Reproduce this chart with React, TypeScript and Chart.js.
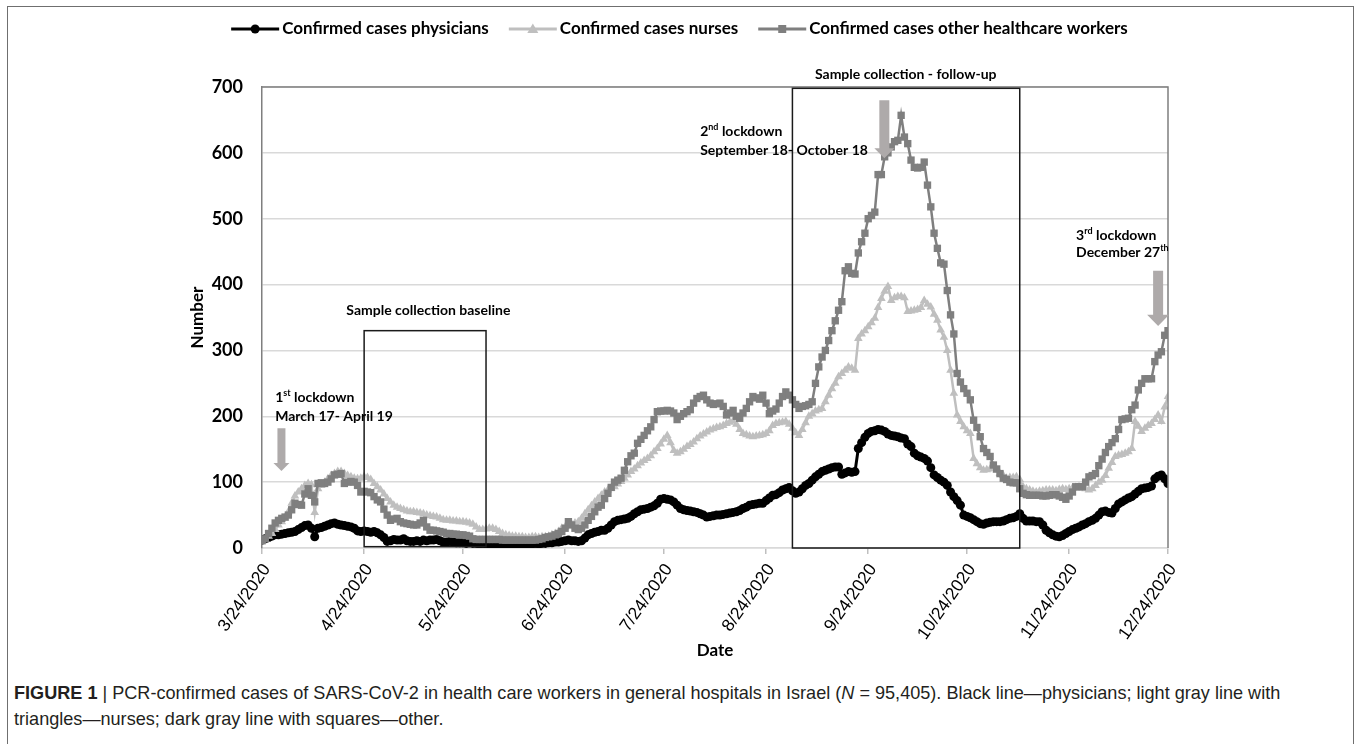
import React, { useEffect, useRef } from 'react';
import { Chart, registerables } from 'chart.js';

Chart.register(...registerables);

// ---------------- data ----------------
const START_DATE = '3/24/2020';
const TICK_LABELS = [
  '3/24/2020', '4/24/2020', '5/24/2020', '6/24/2020', '7/24/2020',
  '8/24/2020', '9/24/2020', '10/24/2020', '11/24/2020', '12/24/2020',
];
const Y_TICKS = [0, 100, 200, 300, 400, 500, 600, 700];
const SERIES_NAMES = [
  'Confirmed cases physicians',
  'Confirmed cases nurses',
  'Confirmed cases other healthcare workers',
];

// daily values, 3/24/2020 .. 12/24/2020
const PHYSICIANS = [
  12, 14, 16, 18, 20, 20, 21, 22, 23, 24,
  25, 28, 31, 34, 35, 30, 17, 30, 31, 33,
  35, 37, 38, 36, 35, 34, 33, 32, 30, 26,
  25, 26, 25, 24, 25, 23, 20, 16, 10, 11,
  13, 12, 12, 14, 11, 10, 10, 11, 10, 12,
  11, 12, 12, 13, 11, 9, 9, 10, 9, 8,
  8, 8, 7, 8, 7, 7, 6, 7, 6, 6,
  6, 6, 5, 6, 5, 6, 6, 5, 6, 6,
  6, 6, 6, 7, 6, 7, 7, 8, 8, 9,
  9, 10, 11, 12, 11, 11, 10, 11, 15, 20,
  22, 24, 25, 27, 27, 30, 35, 40, 42, 43,
  44, 45, 48, 52, 55, 58, 59, 60, 62, 64,
  68, 74, 75, 74, 73, 70, 65, 60, 58, 57,
  56, 55, 54, 52, 50, 47, 48, 49, 50, 50,
  51, 52, 53, 54, 55, 57, 60, 62, 65, 66,
  67, 68, 68, 72, 76, 80, 81, 84, 88, 90,
  92, 87, 83, 85, 90, 95, 98, 103, 108, 112,
  116, 118, 120, 122, 123, 123, 112, 114, 116, 115,
  116, 151, 160, 168, 174, 177, 178, 180, 179, 177,
  173, 171, 170, 169, 167, 166, 158, 154, 144, 140,
  138, 136, 132, 122, 111, 107, 103, 100, 95, 85,
  78, 72, 65, 50, 48, 46, 43, 40, 37, 36,
  38, 39, 40, 40, 40, 41, 43, 45, 46, 48,
  52, 45, 41, 41, 41, 40, 40, 35, 27, 23,
  20, 18, 17, 19, 22, 25, 28, 30, 32, 35,
  37, 40, 42, 45, 50, 55, 56, 54, 53, 60,
  67, 70, 73, 76, 78, 82, 86, 90, 91, 92,
  94, 105, 109, 111, 105, 98,
];

const NURSES = [
  10, 13, 18, 22, 28, 35, 40, 45, 55, 68,
  79, 85, 90, 95, 98, 96, 54, 90, 95, 100,
  105, 110, 113, 116, 116, 113, 110, 108, 106, 105,
  106, 108, 107, 104, 98, 93, 88, 82, 75, 70,
  65, 62, 60, 58, 56, 55, 55, 54, 53, 52,
  50, 49, 48, 47, 45, 43, 42, 42, 41, 41,
  40, 40, 39, 38, 36, 32, 28, 28, 29, 30,
  30, 28, 25, 22, 20, 19, 18, 18, 17, 17,
  16, 16, 17, 17, 16, 17, 17, 18, 20, 22,
  25, 30, 32, 34, 36, 38, 40, 45, 52, 58,
  64, 70, 75, 80, 85, 88, 91, 93, 97, 101,
  106, 111, 116, 120, 125, 129, 133, 136, 140, 146,
  151, 158, 165, 171, 160, 148, 144, 146, 150, 154,
  157, 161, 166, 170, 173, 176, 179, 181, 183, 184,
  186, 189, 191, 193, 188, 180, 174, 172, 170, 169,
  170, 171, 172, 174, 178, 186, 189, 190, 191, 192,
  188, 182, 175, 171, 180, 190, 200, 204, 208, 210,
  212, 222, 232, 242, 250, 260, 265, 270, 275, 273,
  270, 318, 325, 330, 336, 342, 349, 365, 379, 390,
  397, 376, 380, 382, 382, 380, 359, 360, 361, 362,
  365, 376, 370, 366, 355, 346, 331, 320, 300, 270,
  235, 202, 192, 184, 178, 174, 136, 128, 122, 118,
  119, 120, 121, 118, 113, 110, 106, 107, 107, 108,
  104, 93, 90, 88, 86, 85, 86, 87, 88, 88,
  88, 87, 89, 90, 89, 90, 91, 92, 93, 92,
  90, 88, 90, 95, 100, 103, 110, 121, 130, 139,
  141, 142, 144, 146, 151, 192, 185, 177, 182, 186,
  189, 195, 202, 192, 214, 230,
];

const OTHER = [
  11, 14, 22, 30, 38, 42, 45, 47, 50, 58,
  68, 66, 65, 82, 90, 80, 70, 98, 99, 98,
  100, 105, 111, 112, 113, 98, 100, 101, 100, 95,
  85, 86, 85, 84, 78, 73, 70, 59, 50, 42,
  44, 45, 40, 38, 37, 36, 35, 35, 38, 42,
  32, 27, 27, 26, 25, 24, 22, 22, 21, 21,
  20, 20, 19, 18, 14, 13, 13, 13, 13, 13,
  13, 13, 13, 12, 12, 12, 12, 12, 12, 12,
  12, 12, 12, 12, 13, 14, 16, 17, 18, 20,
  22, 25, 30, 40, 35, 30, 28, 30, 35, 42,
  48, 55, 62, 65, 75, 83, 92, 100, 103, 106,
  118, 131, 140, 144, 159, 165, 171, 178, 184, 195,
  207, 208, 208, 209, 208, 205, 195, 200, 204, 207,
  210, 220, 227, 230, 232, 225, 220, 218, 219, 220,
  215, 202, 205, 209, 200, 197, 205, 212, 222, 230,
  228, 226, 232, 220, 204, 208, 211, 220, 230, 237,
  232, 225, 218, 212, 215, 216, 218, 222, 250, 275,
  290, 300, 315, 330, 345, 361, 374, 421, 427, 417,
  416, 448, 465, 478, 500, 505, 510, 567, 567, 594,
  600, 609, 617, 619, 657, 624, 614, 589, 578, 577,
  578, 586, 551, 518, 478, 455, 433, 431, 391, 354,
  325, 265, 252, 242, 235, 225, 194, 183, 169, 151,
  145, 139, 126, 120, 113, 106, 104, 100, 99, 99,
  90, 83, 81, 80, 80, 80, 80, 79, 79, 80,
  81, 81, 79, 77, 74, 79, 85, 93, 93, 93,
  100, 108, 110, 113, 125, 135, 145, 154, 160, 166,
  180, 195, 196, 197, 210, 217, 240, 250, 257, 257,
  257, 283, 293, 298, 323, 330,
];

const BASELINE_WINDOW = ['4/24/2020', '5/31/2020'];
const FOLLOWUP_WINDOW = ['9/1/2020', '11/9/2020'];

// ---------------- helpers ----------------
function dayIndex(label: string): number {
  const [m, d, y] = label.split('/').map(Number);
  const [m0, d0, y0] = START_DATE.split('/').map(Number);
  return Math.round((Date.UTC(y, m - 1, d) - Date.UTC(y0, m0 - 1, d0)) / 86400000);
}
const TICK_DAYS = TICK_LABELS.map(dayIndex);

const BOLD = 'Lato, "Open Sans", sans-serif';
const ARROW_COLOR = '#AEAAAA';

type Part = { t: string; sup?: boolean };

function drawRich(ctx: CanvasRenderingContext2D, parts: Part[], x: number, y: number, size: number, align: 'left' | 'center') {
  const mainFont = `bold ${size}px ${BOLD}`;
  const supFont = `bold ${Math.round(size * 0.66)}px ${BOLD}`;
  let total = 0;
  parts.forEach((p) => {
    ctx.font = p.sup ? supFont : mainFont;
    total += ctx.measureText(p.t).width;
  });
  let cx = align === 'center' ? x - total / 2 : x;
  ctx.textBaseline = 'middle';
  ctx.textAlign = 'left';
  ctx.fillStyle = '#000';
  parts.forEach((p) => {
    ctx.font = p.sup ? supFont : mainFont;
    ctx.fillText(p.t, cx, p.sup ? y - size * 0.35 : y);
    cx += ctx.measureText(p.t).width;
  });
}

function drawArrow(ctx: CanvasRenderingContext2D, cx: number, yTop: number, yHead: number, yTip: number, shaftW: number, headW: number) {
  ctx.save();
  ctx.fillStyle = ARROW_COLOR;
  ctx.beginPath();
  ctx.moveTo(cx - shaftW / 2, yTop);
  ctx.lineTo(cx + shaftW / 2, yTop);
  ctx.lineTo(cx + shaftW / 2, yHead);
  ctx.lineTo(cx + headW / 2, yHead);
  ctx.lineTo(cx, yTip);
  ctx.lineTo(cx - headW / 2, yHead);
  ctx.lineTo(cx - shaftW / 2, yHead);
  ctx.closePath();
  ctx.fill();
  ctx.restore();
}

const overlayPlugin = {
  id: 'overlay',
  afterDatasetsDraw(chart: any) {
    const ctx: CanvasRenderingContext2D = chart.ctx;
    const xs = chart.scales.x;
    const ys = chart.scales.y;
    const px = (d: number) => xs.getPixelForValue(d);
    const py = (v: number) => ys.getPixelForValue(v);
    const { left, right, top, bottom } = chart.chartArea;

    ctx.save();
    // plot frame (top / right)
    ctx.strokeStyle = '#7F7F7F';
    ctx.lineWidth = 1.5;
    ctx.beginPath();
    ctx.moveTo(left, top);
    ctx.lineTo(right, top);
    ctx.lineTo(right, bottom);
    ctx.stroke();

    // sample collection windows
    ctx.strokeStyle = '#1a1a1a';
    ctx.lineWidth = 1.5;
    const b0 = px(dayIndex(BASELINE_WINDOW[0])), b1 = px(dayIndex(BASELINE_WINDOW[1]));
    ctx.strokeRect(b0, py(330), b1 - b0, py(2) - py(330));
    const f0 = px(dayIndex(FOLLOWUP_WINDOW[0])), f1 = px(dayIndex(FOLLOWUP_WINDOW[1]));
    ctx.strokeRect(f0, py(698), f1 - f0, py(0) - py(698));

    // arrows
    drawArrow(ctx, px(5.9), py(182), py(129), py(117), 8, 16);
    drawArrow(ctx, px(188.9), py(680), py(607), py(592), 10, 20);
    drawArrow(ctx, px(272), py(421), py(354), py(337), 10, 22);

    // annotation texts
    const fs = 14;
    drawRich(ctx, [{ t: 'Sample collection baseline' }], px(50.5), py(361), fs, 'center');
    drawRich(ctx, [{ t: 'Sample collection - follow-up' }], px(195.4), py(719), fs, 'center');
    drawRich(ctx, [{ t: '1' }, { t: 'st', sup: true }, { t: ' lockdown' }], px(4), py(228), fs, 'left');
    drawRich(ctx, [{ t: 'March 17- April 19' }], px(4), py(199), fs, 'left');
    drawRich(ctx, [{ t: '2' }, { t: 'nd', sup: true }, { t: ' lockdown' }], px(133), py(632), fs, 'left');
    drawRich(ctx, [{ t: 'September 18- October 18' }], px(133), py(603), fs, 'left');
    drawRich(ctx, [{ t: '3' }, { t: 'rd', sup: true }, { t: ' lockdown' }], px(247.1), py(474), fs, 'left');
    drawRich(ctx, [{ t: 'December 27' }, { t: 'th', sup: true }], px(247.1), py(448), fs, 'left');

    // axis titles
    ctx.fillStyle = '#000';
    ctx.font = `bold 17px ${BOLD}`;
    ctx.textAlign = 'center';
    ctx.textBaseline = 'middle';
    ctx.fillText('Date', (left + right) / 2, bottom + 103);
    ctx.save();
    ctx.translate(left - 64, (top + bottom) / 2);
    ctx.rotate(-Math.PI / 2);
    ctx.fillText('Number', 0, 0);
    ctx.restore();

    // legend
    const styles = [
      { color: '#000000', shape: 'circle' },
      { color: '#BFBFBF', shape: 'triangle' },
      { color: '#7F7F7F', shape: 'rect' },
    ];
    ctx.font = `bold 17px ${BOLD}`;
    const sampleW = 48, gap = 3, spacing = 20;
    const widths = SERIES_NAMES.map((n) => ctx.measureText(n).width);
    const total = widths.reduce((a, w) => a + sampleW + gap + w, 0) + spacing * (SERIES_NAMES.length - 1);
    let lx = chart.width / 2 - total / 2 + 1;
    const ly = 29;
    SERIES_NAMES.forEach((name, i) => {
      const st = styles[i];
      ctx.strokeStyle = st.color;
      ctx.fillStyle = st.color;
      ctx.lineWidth = 3;
      ctx.beginPath();
      ctx.moveTo(lx, ly);
      ctx.lineTo(lx + sampleW, ly);
      ctx.stroke();
      const mx = lx + sampleW / 2;
      ctx.beginPath();
      if (st.shape === 'circle') ctx.arc(mx, ly, 4.5, 0, Math.PI * 2);
      else if (st.shape === 'triangle') {
        ctx.moveTo(mx, ly - 5.5);
        ctx.lineTo(mx + 5.5, ly + 4);
        ctx.lineTo(mx - 5.5, ly + 4);
        ctx.closePath();
      } else ctx.rect(mx - 4, ly - 4, 8, 8);
      ctx.fill();
      ctx.fillStyle = '#000';
      ctx.textAlign = 'left';
      ctx.textBaseline = 'middle';
      ctx.fillText(name, lx + sampleW + gap, ly);
      lx += sampleW + gap + widths[i] + spacing;
    });
    ctx.restore();
  },
};

export default function App() {
  const canvasRef = useRef<HTMLCanvasElement | null>(null);

  useEffect(() => {
    if (!canvasRef.current) return;
    const toPoints = (arr: number[]) => arr.map((v, i) => ({ x: i, y: v }));
    const chart = new Chart(canvasRef.current, {
      type: 'line',
      data: {
        datasets: [
          {
            label: SERIES_NAMES[0],
            data: toPoints(PHYSICIANS),
            borderColor: '#000000',
            backgroundColor: '#000000',
            borderWidth: 3,
            pointStyle: 'circle',
            pointRadius: 4.5,
            pointBorderWidth: 0,
            order: 3,
          },
          {
            label: SERIES_NAMES[1],
            data: toPoints(NURSES),
            borderColor: '#BFBFBF',
            backgroundColor: '#BFBFBF',
            borderWidth: 2.5,
            pointStyle: 'triangle',
            pointRadius: 5,
            pointBorderWidth: 0,
            order: 2,
          },
          {
            label: SERIES_NAMES[2],
            data: toPoints(OTHER),
            borderColor: '#7F7F7F',
            backgroundColor: '#7F7F7F',
            borderWidth: 2.5,
            pointStyle: 'rect',
            pointRadius: 5.2,
            pointBorderWidth: 0,
            order: 1,
          },
        ],
      },
      options: {
        animation: false,
        responsive: false,
        maintainAspectRatio: false,
        events: [],
        layout: { padding: { top: 87, left: 0, right: 189, bottom: 0 } },
        plugins: { legend: { display: false }, tooltip: { enabled: false }, title: { display: false } },
        scales: {
          x: {
            type: 'linear',
            min: 0,
            max: TICK_DAYS[TICK_DAYS.length - 1],
            afterBuildTicks: (s: any) => {
              s.ticks = TICK_DAYS.map((v) => ({ value: v }));
            },
            afterFit: (s: any) => {
              s.height = 132;
            },
            ticks: {
              autoSkip: false,
              minRotation: 55,
              maxRotation: 55,
              padding: 6,
              labelOffset: 5,
              color: '#000',
              font: { family: '"Liberation Sans", Arial, sans-serif', size: 17.5 },
              callback: (v: any) => {
                const idx = TICK_DAYS.indexOf(Number(v));
                return idx >= 0 ? TICK_LABELS[idx] : '';
              },
            },
            grid: { drawOnChartArea: false, drawTicks: true, tickLength: 6, color: '#BFBFBF', lineWidth: 1.5 },
            border: { color: '#D9D9D9', width: 1.5 },
          },
          y: {
            min: 0,
            max: 700,
            afterBuildTicks: (s: any) => {
              s.ticks = Y_TICKS.map((v) => ({ value: v }));
            },
            afterFit: (s: any) => {
              s.width = 262;
            },
            ticks: {
              padding: 19,
              color: '#000',
              font: { family: BOLD, size: 18, weight: 'bold' },
            },
            grid: { color: '#D9D9D9', lineWidth: 1.5, drawTicks: false },
            border: { color: '#7F7F7F', width: 1.5 },
          },
        },
      } as any,
      plugins: [overlayPlugin],
    });
    return () => chart.destroy();
  }, []);

  return (
    <div style={{ position: 'fixed', left: 0, top: 0, width: 1357, height: 744, overflow: 'hidden', background: '#fff' }}>
      <div
        style={{
          position: 'absolute', left: 7, top: 6, width: 1347, height: 800,
          border: '1.5px solid #6F6F6F', boxSizing: 'border-box',
        }}
      />
      <canvas ref={canvasRef} width={1357} height={680} style={{ position: 'absolute', left: 0, top: 0, width: 1357, height: 680 }} />
      <div
        style={{
          position: 'absolute', left: 14, top: 680, whiteSpace: 'nowrap',
          fontFamily: '"Liberation Sans", Arial, sans-serif', fontSize: 18.1, lineHeight: '26px', color: '#231f20',
        }}
      >
        <b>FIGURE 1</b> | PCR-confirmed cases of SARS-CoV-2 in health care workers in general hospitals in Israel (<i>N</i> = 95,405). Black line—physicians; light gray line with
        <br />
        triangles—nurses; dark gray line with squares—other.
      </div>
    </div>
  );
}
